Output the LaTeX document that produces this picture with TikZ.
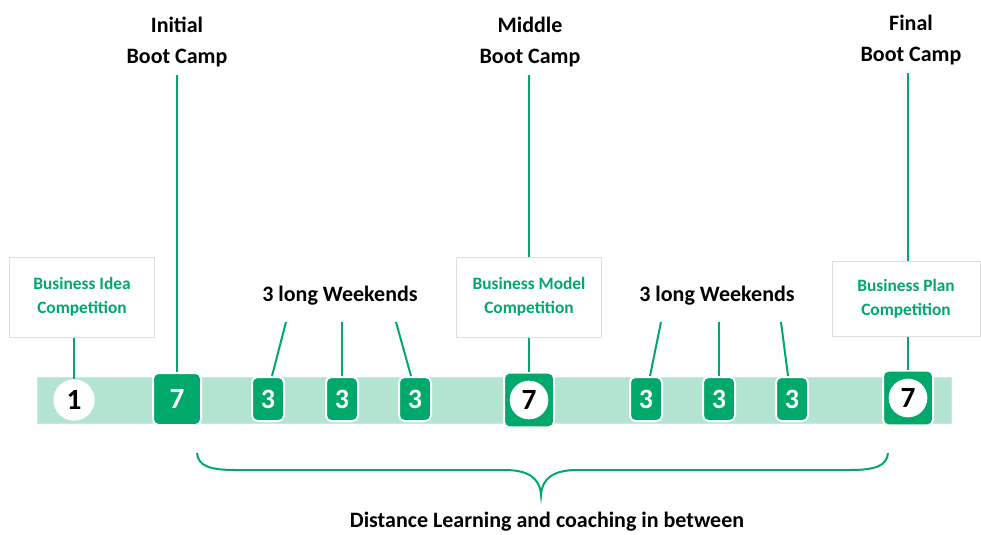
\documentclass[tikz,border=0pt]{standalone}
\usepackage{fontspec}
\setmainfont{Carlito}
\usepackage{xcolor}
\usetikzlibrary{calc,positioning}
\definecolor{campgreen}{RGB}{0,168,107}
\definecolor{bandgreen}{RGB}{179,228,209}
\definecolor{edgegray}{RGB}{222,222,222}
\tikzstyle{band} = [fill=bandgreen, draw=edgegray, line width=0.75pt,
    minimum width=685.5pt, minimum height=34.5pt, inner sep=0pt]
\tikzstyle{dayone} = [circle, fill=white, minimum size=31pt, inner sep=0pt,
    font=\fontsize{22}{26}\selectfont\bfseries]
\tikzstyle{bootcamp} = [fill=campgreen, draw=white, line width=1.5pt,
    rounded corners=4pt, minimum width=36pt, minimum height=39pt, inner sep=0pt,
    text=white, font=\fontsize{22}{26}\selectfont\bfseries]
\tikzstyle{weekend} = [bootcamp, minimum width=24pt, minimum height=33pt,
    font=\fontsize{21}{25}\selectfont\bfseries]
\tikzstyle{compbox} = [draw=edgegray, fill=white, line width=0.75pt,
    minimum width=109pt, minimum height=60pt, align=center, text=campgreen,
    font=\fontsize{13}{18}\selectfont\bfseries]
\tikzstyle{title} = [align=center, inner sep=6pt,
    font=\fontsize{16.5}{23}\selectfont\bfseries]
\tikzstyle{link} = [draw=campgreen, line width=1.5pt]

\begin{document}
\begin{tikzpicture}[x=0.75pt,y=-0.75pt]
\useasboundingbox (0,0) rectangle (981,535);
% timeline band
\node[band] (band) at (494,400) {};
\node[dayone] (d1) at (74,400) {1};
\node[bootcamp] (camp1) at (177,399) {7};
\node[weekend] (w1) at (268,399) {3};
\node[weekend] (w2) at (342,399) {3};
\node[weekend] (w3) at (415,399) {3};
\node[bootcamp, minimum width=37.5pt, minimum height=41pt] (camp2) at (529,400) {};
\node[dayone, minimum size=29pt] (camp2in) at (camp2) {7};
\node[weekend] (w4) at (646,399) {3};
\node[weekend] (w5) at (719,399) {3};
\node[weekend] (w6) at (792,399) {3};
\node[bootcamp, minimum width=37.5pt, minimum height=41pt] (camp3) at (908,398) {};
\node[dayone, minimum size=29pt] (camp3in) at (camp3) {7};
% competitions
\node[compbox] (idea) at (82,297) {Business Idea\\Competition};
\node[compbox] (model) at (529,297) {Business Model\\Competition};
\node[compbox, minimum width=111pt, minimum height=56pt] (plan) at (906,299) {Business Plan\\Competition};
% boot camp titles
\node[title] (t1) at (177,42) {Initial\\Boot Camp};
\node[title] (t2) at (530,42) {Middle\\Boot Camp};
\node[title] (t3) at (911,40) {Final\\Boot Camp};
\node[title] (wk1) at (340,296) {3 long Weekends};
\node[title] (wk2) at (717,296) {3 long Weekends};
% connectors
\draw[link] (camp1 |- t1.south) -- (camp1.north);
\draw[link] (d1 |- idea.south) -- (d1.north);
\draw[link] (camp2 |- t2.south) -- (camp2 |- model.north);
\draw[link] (camp2 |- model.south) -- (camp2.north);
\draw[link] (camp3 |- t3.south) -- (camp3 |- plan.north);
\draw[link] (camp3 |- plan.south) -- (camp3.north);
\coordinate (l1) at (286,322);
\coordinate (l2) at (342,322);
\coordinate (l3) at (396,322);
\coordinate (l4) at (661,322);
\coordinate (l5) at (719,322);
\coordinate (l6) at (781,322);
\draw[link] (l1) -- ($(w1.north)+(4,0)$);
\draw[link] (l2) -- (w2.north);
\draw[link] (l3) -- ($(w3.north)+(-4,0)$);
\draw[link] (l4) -- ($(w4.north)+(4,0)$);
\draw[link] (l5) -- (w5.north);
\draw[link] (l6) -- ($(w6.north)+(-4,0)$);
% brace
\draw[link] (197,453) .. controls (198,466) and (210,470) .. (235,470)
    -- (505,470) .. controls (528,470) and (540,478) .. (541,495)
    .. controls (542,478) and (554,470) .. (577,470)
    -- (850,470) .. controls (875,470) and (887,466) .. (888,453);
\node[title, inner sep=2pt] (dist) at (547,522) {Distance Learning and coaching in between};
\end{tikzpicture}
\end{document}
